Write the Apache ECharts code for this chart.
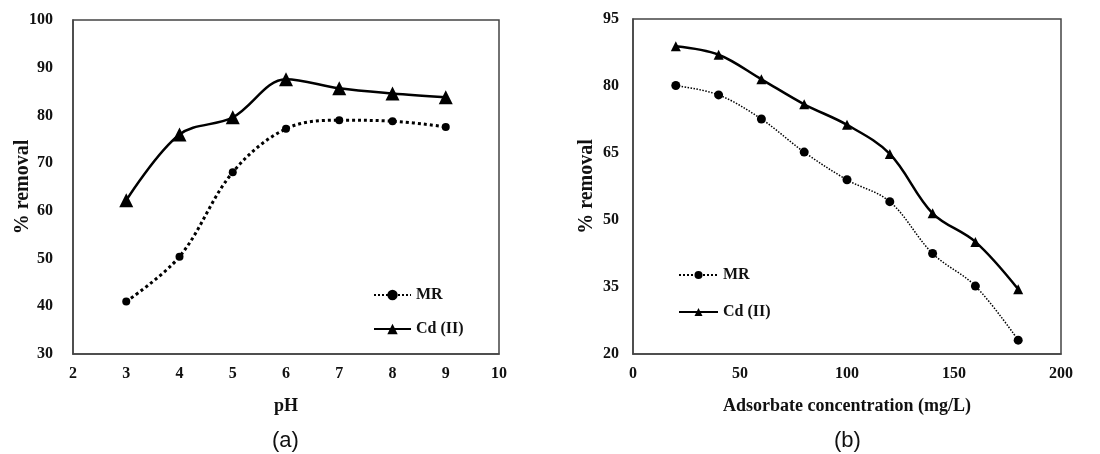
<!DOCTYPE html>
<html lang="en">
<head>
    <meta charset="utf-8">
    <title>% removal</title>
    <script src="https://cdn.jsdelivr.net/npm/echarts@6/dist/echarts.min.js"></script>
    <style>
        body { margin: 0; background: #fff; }
    </style>
</head>
<body>
<div id="main" style="width:1100px;height:454px"></div>
<script type="text/javascript">
    // (a) effect of pH
    var phValues = [3, 4, 5, 6, 7, 8, 9];
    var mrByPH = [41.0, 50.4, 68.1, 77.2, 79.0, 78.8, 77.6];
    var cdByPH = [62.2, 76.0, 79.6, 87.6, 85.7, 84.6, 83.8];

    // (b) effect of adsorbate concentration
    var concValues = [20, 40, 60, 80, 100, 120, 140, 160, 180];
    var mrByConc = [80.1, 78.0, 72.6, 65.2, 59.0, 54.1, 42.5, 35.2, 23.1];
    var cdByConc = [88.9, 87.0, 81.5, 75.9, 71.3, 64.8, 51.5, 45.1, 34.5];

    var seriesNames = ['MR', 'Cd (II)'];

    function pairs(xs, ys) {
        return xs.map(function (x, i) { return [x, ys[i]]; });
    }

    var serif = 'Liberation Serif';
    var labelStyle = { fontFamily: serif, fontWeight: 'bold', fontSize: 16, color: '#111' };
    var nameStyle = { fontFamily: serif, fontWeight: 'bold', fontSize: 18, color: '#111' };
    var yNameStyle = { fontFamily: serif, fontWeight: 'bold', fontSize: 20, color: '#111' };
    var axisLine = { show: true, lineStyle: { color: '#444', width: 1.5 } };

    var myChart = echarts.init(document.getElementById('main'));
    var option = {
        backgroundColor: '#fff',
        animation: false,
        grid: [
            { left: 73, top: 20, width: 426, height: 334, show: true, borderColor: '#444', borderWidth: 1.5 },
            { left: 633, top: 19, width: 428, height: 335, show: true, borderColor: '#444', borderWidth: 1.5 }
        ],
        xAxis: [{
            gridIndex: 0, type: 'value', min: 2, max: 10, interval: 1,
            name: 'pH', nameLocation: 'middle', nameGap: 43, nameTextStyle: nameStyle,
            axisLine: axisLine, axisTick: { show: false }, splitLine: { show: false },
            axisLabel: Object.assign({ margin: 12 }, labelStyle)
        }, {
            gridIndex: 1, type: 'value', min: 0, max: 200, interval: 50,
            name: 'Adsorbate concentration (mg/L)', nameLocation: 'middle', nameGap: 43, nameTextStyle: nameStyle,
            axisLine: axisLine, axisTick: { show: false }, splitLine: { show: false },
            axisLabel: Object.assign({ margin: 12 }, labelStyle)
        }],
        yAxis: [{
            gridIndex: 0, type: 'value', min: 30, max: 100, interval: 10,
            name: '% removal', nameLocation: 'middle', nameGap: 40, nameMoveOverlap: false,
            nameTextStyle: yNameStyle,
            axisLine: axisLine, axisTick: { show: false }, splitLine: { show: false },
            axisLabel: Object.assign({ margin: 20 }, labelStyle)
        }, {
            gridIndex: 1, type: 'value', min: 20, max: 95, interval: 15,
            name: '% removal', nameLocation: 'middle', nameGap: 36, nameMoveOverlap: false,
            nameTextStyle: yNameStyle,
            axisLine: axisLine, axisTick: { show: false }, splitLine: { show: false },
            axisLabel: Object.assign({ margin: 14 }, labelStyle)
        }],
        legend: [{
            orient: 'vertical', left: 373, top: 287, padding: 0,
            itemWidth: 37, itemHeight: 13, itemGap: 18,
            data: seriesNames,
            textStyle: labelStyle
        }, {
            orient: 'vertical', left: 678, top: 267, padding: 0,
            itemWidth: 39, itemHeight: 10, itemGap: 21,
            data: seriesNames,
            textStyle: labelStyle
        }],
        series: [{
            name: seriesNames[0], type: 'line', xAxisIndex: 0, yAxisIndex: 0,
            data: pairs(phValues, mrByPH), smooth: 0.35,
            symbol: 'circle', symbolSize: 8,
            lineStyle: { color: '#000', width: 3, type: 'dotted' },
            itemStyle: { color: '#000' }
        }, {
            name: seriesNames[1], type: 'line', xAxisIndex: 0, yAxisIndex: 0,
            data: pairs(phValues, cdByPH), smooth: 0.35,
            symbol: 'triangle', symbolSize: 14,
            lineStyle: { color: '#000', width: 2.5 },
            itemStyle: { color: '#000' }
        }, {
            name: seriesNames[0], type: 'line', xAxisIndex: 1, yAxisIndex: 1,
            data: pairs(concValues, mrByConc), smooth: 0.35,
            symbol: 'circle', symbolSize: 9,
            lineStyle: { color: '#000', width: 1.5, type: 'dotted' },
            itemStyle: { color: '#000' }
        }, {
            name: seriesNames[1], type: 'line', xAxisIndex: 1, yAxisIndex: 1,
            data: pairs(concValues, cdByConc), smooth: 0.35,
            symbol: 'triangle', symbolSize: 10,
            lineStyle: { color: '#000', width: 2.5 },
            itemStyle: { color: '#000' }
        }],
        graphic: [{
            type: 'text', left: 286 - 14, top: 430,
            style: { text: '(a)', font: '22px "Liberation Sans"', fill: '#111' }
        }, {
            type: 'text', left: 848 - 14, top: 430,
            style: { text: '(b)', font: '22px "Liberation Sans"', fill: '#111' }
        }]
    };
    myChart.setOption(option);
</script>
</body>
</html>
